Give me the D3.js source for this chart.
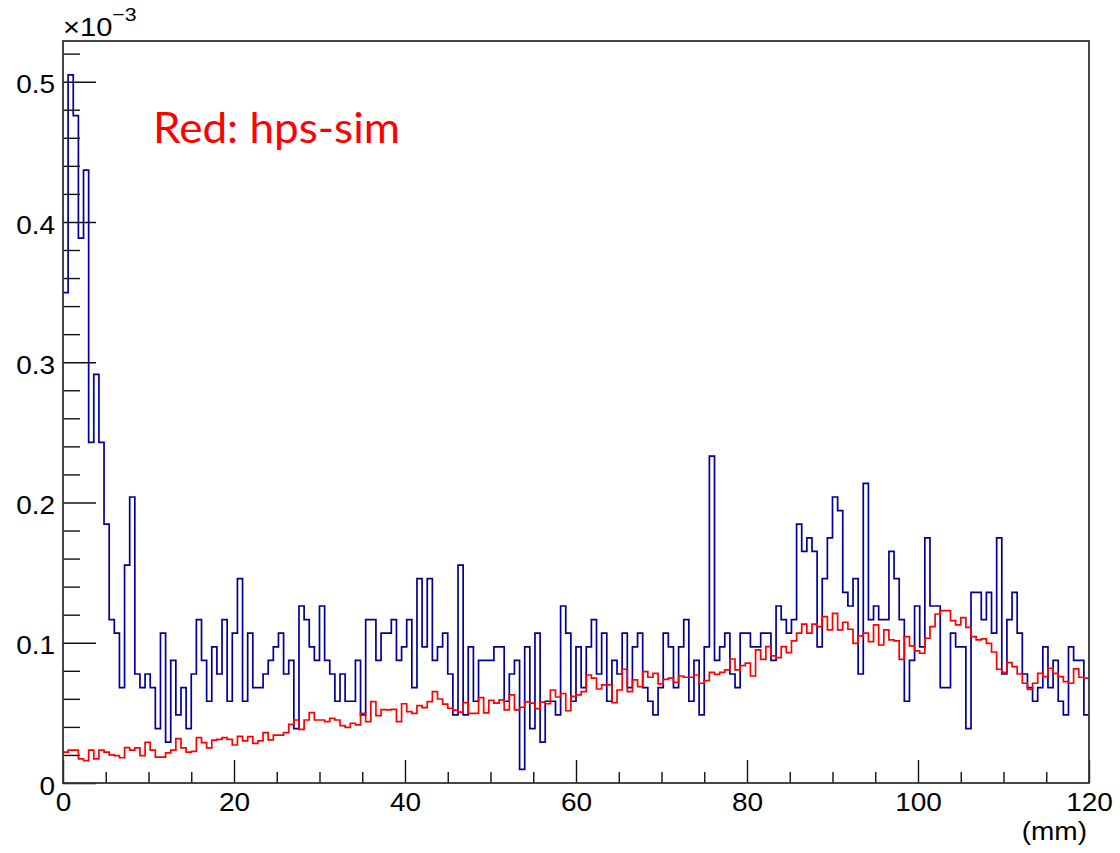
<!DOCTYPE html>
<html>
<head>
<meta charset="utf-8">
<script src="https://cdn.jsdelivr.net/npm/d3@7/dist/d3.min.js"></script>
<style>
  html, body { margin: 0; padding: 0; background: #fff; }
  svg { display: block; }
</style>
</head>
<body>
<script>
// ---- data (values in units of 10^-3), 200 bins of 0.6 mm from 0 to 120 mm ----
const xRange = [0, 120];
const nBins = 200;
const dataBlue = [
0.3496,0.5049,0.4758,0.3884,0.4370,0.2428,0.2913,0.2428,0.1845,0.1165,
0.1068,0.0680,0.1554,0.2039,0.0777,0.0680,0.0777,0.0680,0.0388,0.1068,
0.0291,0.0874,0.0486,0.0680,0.0388,0.0777,0.1165,0.0874,0.0583,0.0971,
0.0777,0.1165,0.0583,0.1068,0.1457,0.0583,0.1068,0.0680,0.0680,0.0777,
0.0874,0.0971,0.1068,0.0777,0.0874,0.0388,0.1262,0.1165,0.0971,0.0874,
0.1262,0.0874,0.0777,0.0583,0.0777,0.0583,0.0583,0.0874,0.0486,0.1165,
0.1165,0.0874,0.1068,0.1068,0.1165,0.0874,0.0971,0.1165,0.0680,0.1457,
0.0971,0.1457,0.0874,0.0971,0.1068,0.0777,0.0486,0.1554,0.0486,0.0971,
0.0583,0.0874,0.0874,0.0874,0.0971,0.0971,0.0583,0.0777,0.0874,0.0097,
0.0971,0.0388,0.1068,0.0291,0.0583,0.0583,0.0486,0.1262,0.1068,0.0583,
0.0971,0.0680,0.0971,0.1165,0.0777,0.1068,0.0583,0.0874,0.0777,0.1068,
0.0680,0.0971,0.1068,0.0680,0.0583,0.0486,0.0680,0.1068,0.0971,0.0680,
0.0971,0.1165,0.0583,0.0874,0.0486,0.0971,0.2330,0.0874,0.0971,0.1068,
0.0777,0.0680,0.1068,0.1068,0.0971,0.0971,0.1068,0.1068,0.0874,0.1262,
0.1165,0.1068,0.1165,0.1845,0.1651,0.1748,0.1651,0.0971,0.1457,0.1748,
0.2039,0.1942,0.1359,0.1262,0.1457,0.0777,0.2136,0.1165,0.1262,0.1165,
0.1165,0.1651,0.1457,0.1165,0.0583,0.0874,0.1262,0.0971,0.1748,0.1262,
0.1262,0.0680,0.0680,0.1068,0.0971,0.0971,0.0388,0.1359,0.1359,0.1165,
0.1359,0.1068,0.1748,0.0777,0.1165,0.1359,0.1068,0.0777,0.0680,0.0583,
0.0680,0.0971,0.0680,0.0874,0.0583,0.0486,0.0971,0.0874,0.0874,0.0486
];
const simRed = [
0.0220,0.0235,0.0235,0.0172,0.0160,0.0235,0.0172,0.0235,0.0220,0.0200,
0.0195,0.0180,0.0252,0.0235,0.0250,0.0195,0.0290,0.0235,0.0185,0.0185,
0.0215,0.0235,0.0316,0.0250,0.0220,0.0225,0.0323,0.0288,0.0250,0.0305,
0.0311,0.0323,0.0311,0.0271,0.0333,0.0300,0.0330,0.0283,0.0300,0.0359,
0.0307,0.0342,0.0342,0.0359,0.0418,0.0449,0.0383,0.0449,0.0502,0.0449,
0.0449,0.0437,0.0461,0.0449,0.0409,0.0397,0.0426,0.0415,0.0497,0.0437,
0.0580,0.0480,0.0523,0.0521,0.0525,0.0437,0.0565,0.0509,0.0497,0.0552,
0.0537,0.0580,0.0651,0.0599,0.0563,0.0533,0.0520,0.0505,0.0573,0.0497,
0.0497,0.0609,0.0500,0.0590,0.0570,0.0592,0.0521,0.0628,0.0521,0.0540,
0.0579,0.0570,0.0530,0.0577,0.0565,0.0663,0.0613,0.0638,0.0515,0.0618,
0.0628,0.0651,0.0770,0.0747,0.0670,0.0699,0.0699,0.0573,0.0663,0.0811,
0.0651,0.0735,0.0687,0.0794,0.0754,0.0782,0.0706,0.0739,0.0747,0.0718,
0.0763,0.0754,0.0754,0.0770,0.0711,0.0730,0.0789,0.0775,0.0789,0.0806,
0.0884,0.0806,0.0837,0.0854,0.0763,0.0949,0.0882,0.0972,0.0906,0.0894,
0.0972,0.0930,0.1013,0.1068,0.1132,0.1068,0.1132,0.1115,0.1186,0.1091,
0.1210,0.1091,0.1146,0.1096,0.0996,0.1049,0.1068,0.1008,0.1127,0.0984,
0.1091,0.1020,0.1013,0.0882,0.1044,0.0977,0.0942,0.0925,0.1032,0.1115,
0.1205,0.1229,0.1229,0.1158,0.1127,0.1179,0.1110,0.1044,0.1020,0.1027,
0.0996,0.0934,0.0811,0.0789,0.0858,0.0830,0.0777,0.0711,0.0668,0.0711,
0.0782,0.0758,0.0818,0.0782,0.0758,0.0723,0.0711,0.0813,0.0754,0.0747
];
const xMajorTicks = [0, 20, 40, 60, 80, 100, 120];
const xMinorTicks = [5,10,15,25,30,35,45,50,55,65,70,75,85,90,95,105,110,115];
const yMajorTicks = [0, 0.1, 0.2, 0.3, 0.4, 0.5];
const yTickLabels = ["0", "0.1", "0.2", "0.3", "0.4", "0.5"];
const yMinorTicks = [0.02,0.04,0.06,0.08,0.12,0.14,0.16,0.18,0.22,0.24,0.26,0.28,0.32,0.34,0.36,0.38,0.42,0.44,0.46,0.48,0.52];
const yMax = 0.529;
const xTitle = "(mm)";
const legendText = "Red: hps-sim";

// ---- layout ----
const W = 1120, H = 853;
const L = 63, R = 1089, T = 41, B = 783;

const svg = d3.select("body").append("svg").attr("width", W).attr("height", H);
svg.append("rect").attr("width", W).attr("height", H).attr("fill", "#fff");

const x = d3.scaleLinear().domain(xRange).range([L, R]);
const y = d3.scaleLinear().domain([0, yMax]).range([B, T]);

const binW = (xRange[1] - xRange[0]) / nBins;
function stepPoints(vals) {
  const pts = vals.map((v, i) => [xRange[0] + i * binW, v]);
  pts.push([xRange[1], vals[vals.length - 1]]);
  return pts;
}
const line = d3.line().x(d => x(d[0])).y(d => y(d[1])).curve(d3.curveStepAfter);

const plot = svg.append("g");
plot.append("clipPath").attr("id", "clip").append("rect")
  .attr("x", L).attr("y", T).attr("width", R - L).attr("height", B - T);

plot.append("path").datum(stepPoints(dataBlue))
  .attr("d", line).attr("fill", "none")
  .attr("stroke", "#000099").attr("stroke-width", 1.7)
  .attr("clip-path", "url(#clip)");
plot.append("path").datum(stepPoints(simRed))
  .attr("d", line).attr("fill", "none")
  .attr("stroke", "#ff0000").attr("stroke-width", 1.7)
  .attr("clip-path", "url(#clip)");

// ---- axes ----
const fontFam = "'Liberation Sans', Arial, Helvetica, sans-serif";
const stretch = "scale(1.12,1)";

function styleAxis(g) {
  g.select(".domain").remove();
  g.selectAll(".tick line").attr("stroke", "#111").attr("stroke-width", 1.4);
}

const gxMinor = svg.append("g").attr("transform", `translate(0,${B})`)
  .call(d3.axisBottom(x).tickValues(xMinorTicks).tickSize(-11).tickFormat(""));
styleAxis(gxMinor);
const gx = svg.append("g").attr("transform", `translate(0,${B})`)
  .call(d3.axisBottom(x).tickValues(xMajorTicks).tickSize(-23).tickPadding(10).tickFormat(d3.format("d")));
styleAxis(gx);
gx.selectAll(".tick text")
  .attr("font-family", fontFam).attr("font-size", 25).attr("fill", "#000")
  .attr("transform", stretch);

const gyMinor = svg.append("g").attr("transform", `translate(${L},0)`)
  .call(d3.axisLeft(y).tickValues(yMinorTicks).tickSize(-17).tickFormat(""));
styleAxis(gyMinor);
const gy = svg.append("g").attr("transform", `translate(${L},0)`)
  .call(d3.axisLeft(y).tickValues(yMajorTicks).tickSize(-33).tickPadding(7)
    .tickFormat((d, i) => yTickLabels[i]));
styleAxis(gy);
gy.selectAll(".tick text")
  .attr("font-family", fontFam).attr("font-size", 25).attr("fill", "#000")
  .attr("dy", "0.45em").attr("transform", stretch);

// frame
svg.append("rect").attr("x", L).attr("y", T).attr("width", R - L).attr("height", B - T)
  .attr("fill", "none").attr("stroke", "#333").attr("stroke-width", 1.8);

// exponent label
const expo = svg.append("text").attr("x", L).attr("y", 36)
  .attr("font-family", fontFam).attr("font-size", 26).attr("fill", "#000")
  .attr("transform", `translate(${L},0) scale(1.12,1) translate(${-L},0)`);
expo.append("tspan").text("×10");
expo.append("tspan").attr("dy", -15).attr("font-size", 19).text("−3");

// x title
svg.append("text").attr("x", R - 2).attr("y", 840)
  .attr("text-anchor", "end")
  .attr("font-family", fontFam).attr("font-size", 25).attr("fill", "#000")
  .attr("transform", `translate(${R - 2},0) scale(1.12,1) translate(${-(R - 2)},0)`)
  .text(xTitle);

// annotation
svg.append("text").attr("x", 153).attr("y", 143)
  .attr("font-family", "Lato, 'Open Sans', sans-serif").attr("font-size", 42)
  .attr("fill", "#ff0000")
  .attr("textLength", 247).attr("lengthAdjust", "spacingAndGlyphs")
  .text(legendText);
</script>
</body>
</html>
